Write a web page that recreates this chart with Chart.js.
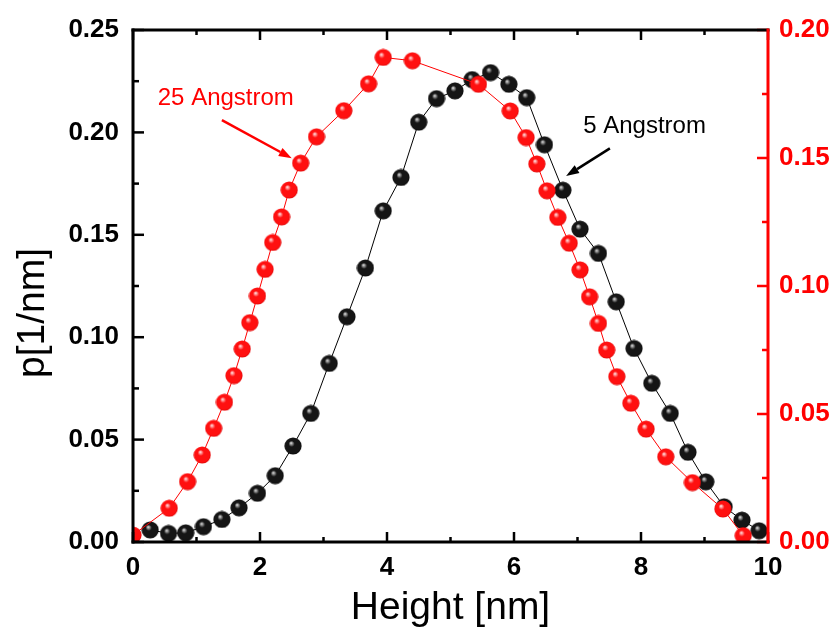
<!DOCTYPE html>
<html>
<head>
<meta charset="utf-8">
<script src="https://cdn.jsdelivr.net/npm/chart.js@4.4.0/dist/chart.umd.min.js"></script>
<style>
  html, body { margin: 0; padding: 0; background: #fff; }
  canvas { display: block; }
</style>
</head>
<body>
<canvas id="chart" width="837" height="631"></canvas>
<script>
// 5 Angstrom (left axis)
const blackX = [0.27, 0.56, 0.83, 1.11, 1.40, 1.67, 1.96, 2.24, 2.52, 2.80, 3.09, 3.37, 3.66, 3.94, 4.22, 4.50, 4.78, 5.07,
    5.34, 5.63, 5.92, 6.20, 6.48, 6.77, 7.04, 7.33, 7.61, 7.89, 8.17, 8.46, 8.74, 9.02, 9.31, 9.59, 9.86];
const blackY = [0.0059, 0.0042, 0.0045, 0.0075, 0.011, 0.0167, 0.0238, 0.0324, 0.0469, 0.0628, 0.0872, 0.110, 0.1338, 0.1617,
    0.178, 0.205, 0.2165, 0.2203, 0.2258, 0.2292, 0.2235, 0.2170, 0.194, 0.1718, 0.1528, 0.1409, 0.1173, 0.0945, 0.0775,
    0.0628, 0.0438, 0.0294, 0.0172, 0.0107, 0.0055];

// 25 Angstrom (right axis)
const redX = [0, 0.57, 0.86, 1.09, 1.27, 1.44, 1.59, 1.72, 1.84, 1.96, 2.08, 2.20, 2.34, 2.46, 2.64, 2.89, 3.32, 3.71, 3.94,
    4.40, 5.44, 5.94, 6.19, 6.36, 6.52, 6.69, 6.87, 7.04, 7.19, 7.33, 7.46, 7.62, 7.84, 8.08, 8.39, 8.81, 9.29, 9.61];
const redY = [0.0027, 0.0132, 0.0236, 0.034, 0.0444, 0.0546, 0.065, 0.0754, 0.0857, 0.0961, 0.1065, 0.117, 0.127, 0.1375,
    0.148, 0.1583, 0.1685, 0.179, 0.1893, 0.188, 0.1788, 0.1684, 0.158, 0.1477, 0.1372, 0.1268, 0.1167, 0.1063, 0.0958,
    0.0854, 0.075, 0.0646, 0.0542, 0.0441, 0.0333, 0.0232, 0.0129, 0.0025];

const seriesNames = ["5 Angstrom", "25 Angstrom"];
const xTitle = "Height [nm]";
const yTitle = "p[1/nm]";

const FONT = "'Liberation Sans', Arial, sans-serif";

// shaded ball used as point style
function makeBall(light, base, dark) {
    const c = document.createElement("canvas");
    c.width = 18; c.height = 18;
    const g = c.getContext("2d");
    const grd = g.createRadialGradient(7, 6, 0.3, 9, 9, 9.5);
    grd.addColorStop(0, light);
    grd.addColorStop(0.3, base);
    grd.addColorStop(0.8, base);
    grd.addColorStop(1, dark);
    g.fillStyle = grd;
    g.beginPath();
    g.arc(9, 9, 8.6, 0, Math.PI * 2);
    g.fill();
    return c;
}
const redBall = makeBall("#ffe0e0", "#ff1010", "#c80000");
const blackBall = makeBall("#d8d8d8", "#151515", "#000000");

// axis frame + inward ticks
const framePlugin = {
    id: "frame",
    afterDatasetsDraw(chart) {
        const { ctx, chartArea: a, scales } = chart;
        const x = scales.x, y = scales.y, y2 = scales.y2;
        const seg = (x1, y1, x2, y2_) => { ctx.beginPath(); ctx.moveTo(x1, y1); ctx.lineTo(x2, y2_); ctx.stroke(); };
        ctx.save();
        ctx.lineWidth = 2.5;
        ctx.strokeStyle = "#000";
        for (let v = 0; v <= 10; v++) {
            const px = x.getPixelForValue(v);
            const len = v % 2 === 0 ? 10 : 5;
            seg(px, a.bottom, px, a.bottom - len);
            seg(px, a.top, px, a.top + len);
        }
        for (let i = 0; i <= 10; i++) {
            const py = y.getPixelForValue(i * 0.025);
            seg(a.left, py, a.left + (i % 2 === 0 ? 11 : 6), py);
        }
        ctx.strokeStyle = "#ff0000";
        for (let i = 0; i <= 8; i++) {
            const py = y2.getPixelForValue(i * 0.025);
            seg(a.right, py, a.right - (i % 2 === 0 ? 11 : 6), py);
        }
        ctx.lineWidth = 3;
        ctx.lineCap = "square";
        ctx.strokeStyle = "#000";
        seg(a.left, a.top, a.right, a.top);
        seg(a.left, a.bottom, a.right, a.bottom);
        seg(a.left, a.top, a.left, a.bottom);
        ctx.strokeStyle = "#ff0000";
        seg(a.right, a.top, a.right, a.bottom);
        ctx.restore();
    }
};

// labels with arrows, y title
function arrow(ctx, x1, y1, x2, y2, color) {
    const ang = Math.atan2(y2 - y1, x2 - x1);
    const hl = 13, hw = 4.5;
    ctx.strokeStyle = color;
    ctx.fillStyle = color;
    ctx.lineWidth = 2.5;
    ctx.beginPath();
    ctx.moveTo(x1, y1);
    ctx.lineTo(x2 - hl * Math.cos(ang), y2 - hl * Math.sin(ang));
    ctx.stroke();
    ctx.beginPath();
    ctx.moveTo(x2, y2);
    ctx.lineTo(x2 - hl * Math.cos(ang) + hw * Math.sin(ang), y2 - hl * Math.sin(ang) - hw * Math.cos(ang));
    ctx.lineTo(x2 - hl * Math.cos(ang) - hw * Math.sin(ang), y2 - hl * Math.sin(ang) + hw * Math.cos(ang));
    ctx.closePath();
    ctx.fill();
}
const notePlugin = {
    id: "notes",
    afterDatasetsDraw(chart) {
        const { ctx, scales } = chart;
        const x = scales.x, y = scales.y, y2 = scales.y2;
        ctx.save();
        ctx.font = "24px " + FONT;
        ctx.textBaseline = "alphabetic";
        ctx.textAlign = "left";
        ctx.fillStyle = "#ff0000";
        ctx.fillText(seriesNames[1], x.getPixelForValue(0.39), y2.getPixelForValue(0.1707));
        arrow(ctx, x.getPixelForValue(1.40), y2.getPixelForValue(0.1648),
            x.getPixelForValue(2.50), y2.getPixelForValue(0.1499), "#ff0000");
        ctx.fillStyle = "#000";
        ctx.fillText(seriesNames[0], x.getPixelForValue(7.09), y.getPixelForValue(0.1997));
        arrow(ctx, x.getPixelForValue(7.51), y.getPixelForValue(0.1922),
            x.getPixelForValue(6.82), y.getPixelForValue(0.1787), "#000");

        // y axis title, sits a bit below the middle of the axis
        ctx.translate(33, 313);
        ctx.rotate(-Math.PI / 2);
        ctx.font = "39px " + FONT;
        ctx.textAlign = "center";
        ctx.textBaseline = "middle";
        ctx.fillStyle = "#000";
        ctx.fillText(yTitle, 0, 0);
        ctx.restore();
    }
};

const tickFont = { family: FONT, size: 26, weight: "bold" };

new Chart(document.getElementById("chart"), {
    type: "line",
    data: {
        datasets: [
            {
                label: seriesNames[1],
                data: redX.map((v, i) => ({ x: v, y: redY[i] })),
                yAxisID: "y2",
                borderColor: "#ff0000",
                borderWidth: 1,
                pointStyle: redBall,
                pointRadius: 9,
                tension: 0,
                clip: 0,
                order: 0,
            },
            {
                label: seriesNames[0],
                data: blackX.map((v, i) => ({ x: v, y: blackY[i] })),
                yAxisID: "y",
                borderColor: "#000",
                borderWidth: 1,
                pointStyle: blackBall,
                pointRadius: 9,
                tension: 0,
                clip: 0,
                order: 1,
            },
        ],
    },
    options: {
        responsive: false,
        animation: false,
        events: [],
        layout: { padding: { top: 30, left: 0, right: 0, bottom: 0 } },
        plugins: { legend: { display: false }, tooltip: { enabled: false } },
        scales: {
            x: {
                type: "linear", position: "bottom", min: 0, max: 10,
                ticks: { stepSize: 2, color: "#000", font: tickFont, padding: 10, maxRotation: 0 },
                grid: { display: false, drawTicks: false },
                border: { display: false },
                title: { display: true, text: xTitle, color: "#000", font: { family: FONT, size: 39 }, padding: { top: 0, bottom: -1 } },
                afterFit(s) { s.height = 89; },
            },
            y: {
                type: "linear", position: "left", min: 0, max: 0.25,
                ticks: { stepSize: 0.05, color: "#000", font: tickFont, padding: 14, callback: v => v.toFixed(2) },
                grid: { display: false, drawTicks: false },
                border: { display: false },
                afterFit(s) { s.width = 133; },
            },
            y2: {
                type: "linear", position: "right", min: 0, max: 0.20,
                ticks: { stepSize: 0.05, color: "#ff0000", font: tickFont, padding: 11, callback: v => v.toFixed(2) },
                grid: { display: false, drawTicks: false },
                border: { display: false },
                afterFit(s) { s.width = 69; },
            },
        },
    },
    plugins: [framePlugin, notePlugin],
});
</script>
</body>
</html>
